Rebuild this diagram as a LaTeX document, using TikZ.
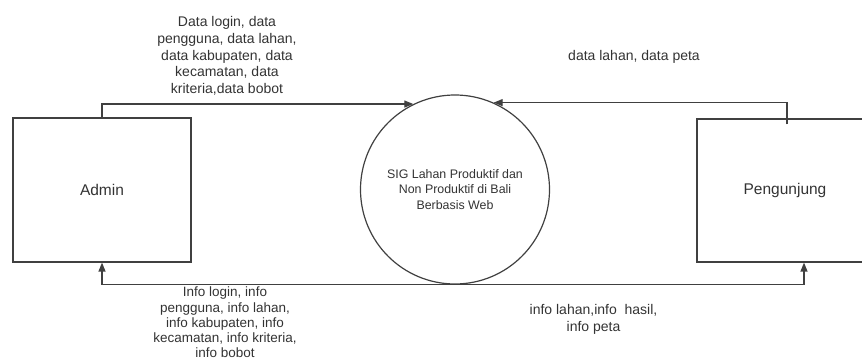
\documentclass[tikz,border=0pt]{standalone}
\usepackage{fontspec}
\setmainfont{Liberation Sans}
\usetikzlibrary{
  arrows.meta,
  positioning,
}
\tikzset{
  >={Triangle[length=9pt,width=7pt]},
  entity/.style={draw=black!75, line width=1.2pt, minimum width=178pt,
    minimum height=144pt, text=black!80, font=\fontsize{15.5}{18}\selectfont},
  process/.style={draw=black!75, line width=1.2pt, circle, minimum size=189pt,
    align=center, text=black!80, font=\fontsize{12.4}{15.5}\selectfont},
  flow/.style={draw=black!75, line width=1.2pt, ->},
  flowtext/.style={align=center, text=black!80, font=\fontsize{14}{16.7}\selectfont},
}

\begin{document}
\begin{tikzpicture}[x=1pt,y=-1pt]
      \useasboundingbox (0,0) rectangle (862,363);
      \node[entity] (admin) at (102,190) {Admin};
      \node[entity, minimum width=176pt, minimum height=143pt] (pengunjung) at (785,190.5) {Pengunjung};
      \node[process] (sig) at (455,189.5) {SIG Lahan Produktif dan\\Non Produktif di Bali\\Berbasis Web};
      \draw[flow] (admin.north) |- (sig.116);
      \draw[flow] ([xshift=2pt,yshift=-6pt]pengunjung.north) |- (sig.66);
      \draw[flow] (sig.south) -| (admin.south);
      \draw[flow] (sig.south) -| ([xshift=19pt]pengunjung.south);
      \node[flowtext] (datain) at (227,56) {Data login, data\\pengguna, data lahan,\\data kabupaten, data\\kecamatan, data\\kriteria,data bobot};
      \node[flowtext] (petain) at (634,57) {data lahan, data peta};
      \node[flowtext, font=\fontsize{13.5}{15.2}\selectfont] (infoout) at (225,322.5) {Info login, info\\pengguna, info lahan,\\info kabupaten, info\\kecamatan, info kriteria,\\info bobot};
      \node[flowtext] (hasilout) at (593.5,319.5) {info lahan,info\ \ hasil,\\info peta};
    \end{tikzpicture}
\end{document}
